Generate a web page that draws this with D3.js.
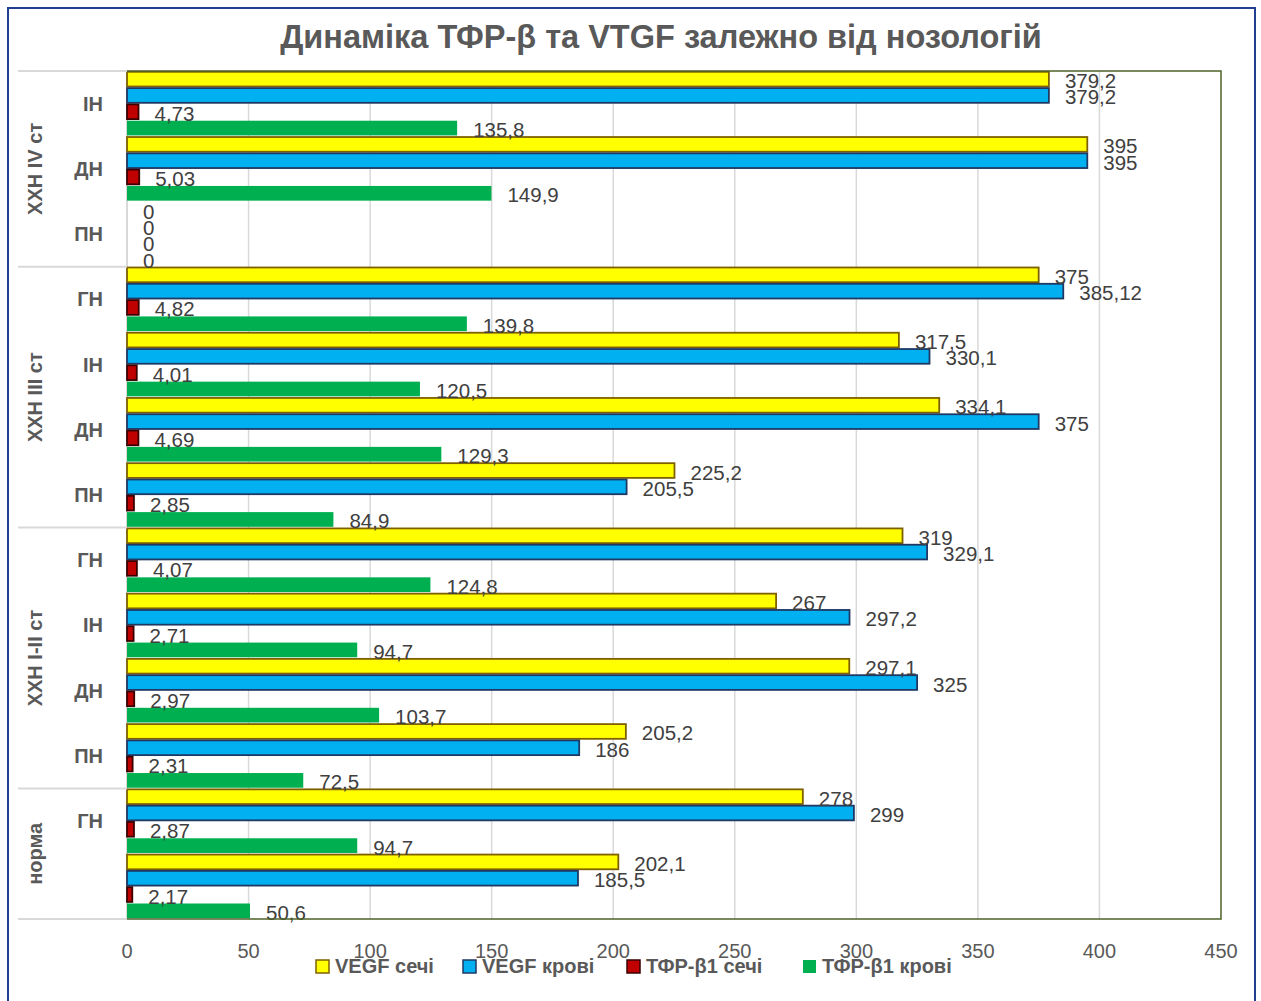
<!DOCTYPE html>
<html>
<head>
<meta charset="utf-8">
<script src="https://cdn.jsdelivr.net/npm/d3@7"></script>
<style>
  body { margin: 0; background: #fff; }
  svg text { font-family: "Liberation Sans", "DejaVu Sans", sans-serif; }
</style>
</head>
<body>
<svg id="chart" width="1261" height="1001"></svg>
<script>
// categories, top to bottom
const groups = ["ХХН IV ст", "ХХН III ст", "ХХН I-II ст", "норма"];
const groupSizes = [3, 4, 4, 2];
const categories = ["ІН", "ДН", "ПН", "ГН", "ІН", "ДН", "ПН", "ГН", "ІН", "ДН", "ПН", "ГН", ""];

const seriesNames = ["VEGF сечі", "VEGF крові", "ТФР-β1 сечі", "ТФР-β1 крові"];
const vegfUrine = [379.2, 395, 0, 375, 317.5, 334.1, 225.2, 319, 267, 297.1, 205.2, 278, 202.1];
const vegfBlood = [379.2, 395, 0, 385.12, 330.1, 375, 205.5, 329.1, 297.2, 325, 186, 299, 185.5];
const tgfUrine = [4.73, 5.03, 0, 4.82, 4.01, 4.69, 2.85, 4.07, 2.71, 2.97, 2.31, 2.87, 2.17];
const tgfBlood = [135.8, 149.9, 0, 139.8, 120.5, 129.3, 84.9, 124.8, 94.7, 103.7, 72.5, 94.7, 50.6];
const xTicks = [0, 50, 100, 150, 200, 250, 300, 350, 400, 450];

const seriesValues = [vegfUrine, vegfBlood, tgfUrine, tgfBlood];
const fills = ["#FFFF00", "#00B0F0", "#C00000", "#00B050"];
const strokes = ["#7F6000", "#1F3864", "#3a0000", "none"];

const svg = d3.select("#chart");
const plotL = 127, plotR = 1221, plotT = 71, plotB = 919;
const grey = "#595959";

// outer frame
svg.append("rect").attr("x", 8).attr("y", 8).attr("width", 1247).attr("height", 1010)
  .attr("fill", "#fff").attr("stroke", "#1F3F8F").attr("stroke-width", 2);

svg.append("text").attr("x", 661).attr("y", 48).attr("text-anchor", "middle")
  .attr("font-size", 32.5).attr("font-weight", "bold").attr("fill", grey)
  .text("Динаміка ТФР-β та VTGF залежно від нозологій");

const x = d3.scaleLinear().domain([0, 450]).range([plotL, plotR]);
const y = d3.scaleBand().domain(d3.range(categories.length)).range([plotT, plotB]).padding(0);
const ys = d3.scaleBand().domain(d3.range(4)).range([0, y.bandwidth()]).padding(0);

// grid
svg.append("g").selectAll("line").data(xTicks.slice(1, -1)).join("line")
  .attr("x1", d => x(d)).attr("x2", d => x(d)).attr("y1", plotT).attr("y2", plotB)
  .attr("stroke", "#d9d9d9").attr("stroke-width", 1.5);

// category axis line
svg.append("line").attr("x1", plotL).attr("x2", plotL).attr("y1", plotT).attr("y2", plotB)
  .attr("stroke", "#d9d9d9").attr("stroke-width", 2);

// bars
const rows = [];
categories.forEach((c, i) => seriesValues.forEach((vals, s) => rows.push({ i, s, v: vals[i] })));

svg.append("g").selectAll("rect").data(rows).join("rect")
  .attr("x", x(0))
  .attr("y", d => y(d.i) + ys(d.s) + 0.8)
  .attr("width", d => x(d.v) - x(0))
  .attr("height", ys.bandwidth() - 1.6)
  .attr("fill", d => fills[d.s])
  .attr("stroke", d => d.v > 0 ? strokes[d.s] : "none")
  .attr("stroke-width", 1.8);

// value labels
svg.append("g").selectAll("text").data(rows).join("text")
  .attr("x", d => x(d.v) + 16)
  .attr("y", d => y(d.i) + ys(d.s) + ys.bandwidth() / 2 + 9)
  .attr("font-size", 20.5).attr("fill", "#404040")
  .text(d => String(d.v).replace(".", ","));

// plot border (top, right, bottom)
svg.append("path")
  .attr("d", `M${plotL},${plotT}H${plotR}V${plotB}H${plotL}`)
  .attr("fill", "none").attr("stroke", "#4F6228").attr("stroke-width", 1.5);

// x tick labels
svg.append("g").selectAll("text").data(xTicks).join("text")
  .attr("x", d => x(d)).attr("y", 958).attr("text-anchor", "middle")
  .attr("font-size", 20).attr("fill", grey).text(d => d);

// category labels
svg.append("g").selectAll("text").data(categories).join("text")
  .attr("x", 103).attr("y", (d, i) => y(i) + y.bandwidth() / 2 + 7)
  .attr("text-anchor", "end").attr("font-size", 20).attr("font-weight", "bold")
  .attr("fill", grey).text(d => d);

// group labels and separators
let start = 0;
groups.forEach((g, k) => {
  const y0 = y(start), y1 = y(start + groupSizes[k] - 1) + y.bandwidth();
  svg.append("line").attr("x1", 18).attr("x2", plotL).attr("y1", y0).attr("y2", y0)
    .attr("stroke", "#d9d9d9").attr("stroke-width", 2);
  if (k === groups.length - 1) {
    svg.append("line").attr("x1", 18).attr("x2", plotL).attr("y1", y1).attr("y2", y1)
      .attr("stroke", "#d9d9d9").attr("stroke-width", 2);
  }
  const cy = (y0 + y1) / 2;
  svg.append("text").attr("transform", `translate(42,${cy}) rotate(-90)`)
    .attr("text-anchor", "middle").attr("font-size", 20).attr("font-weight", "bold")
    .attr("fill", grey).text(g);
  start += groupSizes[k];
});

// legend
const legendX = [316, 463, 627, 803];
const lg = svg.append("g").selectAll("g").data(seriesNames).join("g")
  .attr("transform", (d, i) => `translate(${legendX[i]},960)`);
lg.append("rect").attr("width", 13).attr("height", 13)
  .attr("fill", (d, i) => fills[i])
  .attr("stroke", (d, i) => strokes[i]).attr("stroke-width", 1.5);
lg.append("text").attr("x", 19).attr("y", 13).attr("font-size", 20).attr("font-weight", "bold")
  .attr("fill", grey).text(d => d);
</script>
</body>
</html>
